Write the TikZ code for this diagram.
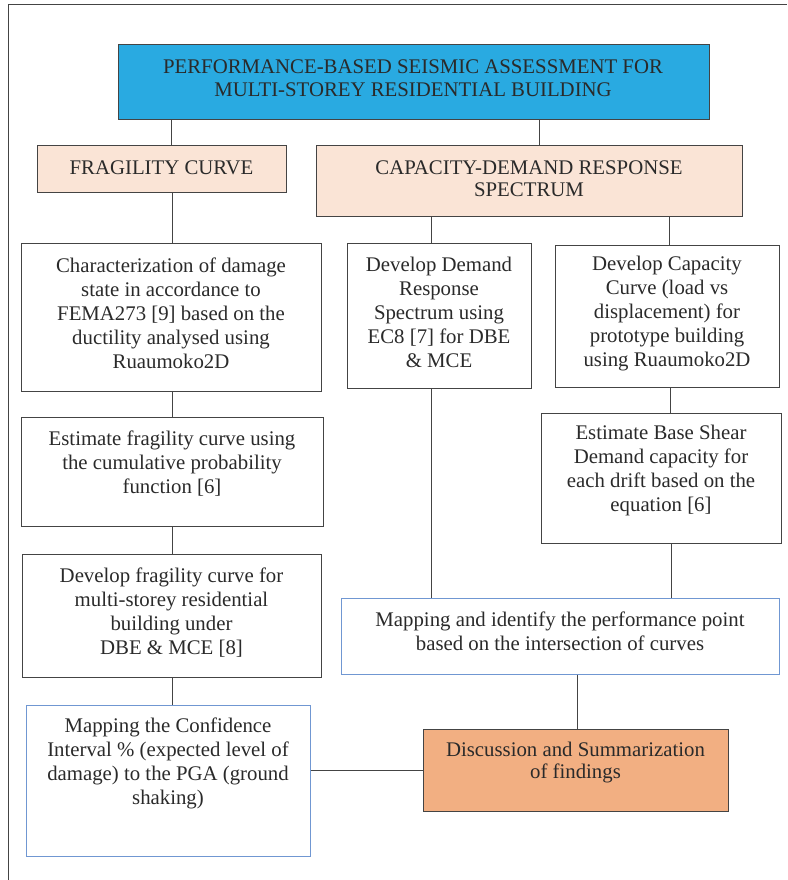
\documentclass[tikz,border=0pt]{standalone}
\usepackage{fontspec}
\setmainfont{Liberation Serif}
\definecolor{titleblue}{HTML}{29AAE1}
\definecolor{pinkfill}{HTML}{FAE4D6}
\definecolor{orangefill}{HTML}{F2AF82}
\definecolor{edgegray}{HTML}{444444}
\definecolor{edgeblue}{HTML}{7097D2}
\definecolor{txtgray}{HTML}{2A2A2A}
\tikzset{
  box/.style={draw=edgegray, line width=1pt, inner sep=0pt, rectangle},
  bluebox/.style={draw=edgeblue, line width=1pt, inner sep=0pt, rectangle, fill=white},
  txt/.style={inner sep=0pt, align=center, text=txtgray, font=\fontsize{20.8}{24}\selectfont},
  conn/.style={draw=edgegray, line width=1pt},
}
\begin{document}
\begin{tikzpicture}[x=1pt, y=-1pt]
\useasboundingbox (0,0) rectangle (787,880);
% outer frame
\coordinate (fr1) at (8,880);
\coordinate (fr2) at (8,5);
\coordinate (fr3) at (787,5);
\draw[edgegray, line width=1pt] (fr1) -- (fr2) -- (fr3);

% boxes
\node[box, fill=titleblue, minimum width=591pt, minimum height=75pt] (title) at (413.5,82.5) {};
\node[box, fill=pinkfill, minimum width=249pt, minimum height=47pt] (frag) at (161.5,168.5) {};
\node[box, fill=pinkfill, minimum width=426pt, minimum height=71pt] (cap) at (529,180.5) {};
\node[box, minimum width=300pt, minimum height=148pt] (char) at (171,317) {};
\node[box, minimum width=302pt, minimum height=109pt] (estf) at (172,471.5) {};
\node[box, minimum width=299pt, minimum height=123pt] (devf) at (171.5,615.5) {};
\node[bluebox, minimum width=284pt, minimum height=151pt] (conf) at (168,780.5) {};
\node[box, minimum width=184pt, minimum height=145pt] (dem) at (439,315.5) {};
\node[box, minimum width=224pt, minimum height=142pt] (capc) at (667,316) {};
\node[box, minimum width=240pt, minimum height=130pt] (base) at (661,478) {};
\node[bluebox, minimum width=438pt, minimum height=76pt] (map) at (560,636) {};
\node[box, fill=orangefill, minimum width=305pt, minimum height=82pt] (disc) at (575.5,770) {};

% texts
\node[txt, font=\fontsize{20.8}{23}\selectfont] (title-t) at (413,78.5) {PERFORMANCE-BASED SEISMIC ASSESSMENT FOR\\MULTI-STOREY RESIDENTIAL BUILDING};
\node[txt] (frag-t) at (161.5,168) {FRAGILITY CURVE};
\node[txt, font=\fontsize{20.8}{22}\selectfont] (cap-t) at (529,179) {CAPACITY-DEMAND RESPONSE\\SPECTRUM};
\node[txt] (char-t) at (171,313.5) {Characterization of damage\\state in accordance to\\FEMA273 [9] based on the\\ductility analysed using\\Ruaumoko2D};
\node[txt] (estf-t) at (172,464) {Estimate fragility curve using\\the cumulative probability\\function [6]};
\node[txt] (devf-t) at (171.5,612.5) {Develop fragility curve for\\multi-storey residential\\building under\\DBE \& MCE [8]};
\node[txt] (dem-t) at (439,312) {Develop Demand\\Response\\Spectrum using\\EC8 [7] for DBE\\\& MCE};
\node[txt] (capc-t) at (667,314) {Develop Capacity\\Curve (load vs\\displacement) for\\prototype building\\using Ruaumoko2D};
\node[txt] (base-t) at (661,470.5) {Estimate Base Shear\\Demand capacity for\\each drift based on the\\equation [6]};
\node[txt] (map-t) at (560,631) {Mapping and identify the performance point\\based on the intersection of curves};
\node[txt, font=\fontsize{20.8}{22}\selectfont] (disc-t) at (575.5,763) {Discussion and Summarization\\of findings};
\node[txt] (conf-t) at (168,763) {Mapping the Confidence\\Interval \% (expected level of\\damage) to the PGA (ground\\shaking)};

% connectors
\draw[conn] (title.south -| 171,0) -- (frag.north -| 171,0);
\draw[conn] (title.south -| 539,0) -- (cap.north -| 539,0);
\draw[conn] (frag.south -| 172,0) -- (char.north -| 172,0);
\draw[conn] (cap.south -| 431,0) -- (dem.north -| 431,0);
\draw[conn] (cap.south -| 669,0) -- (capc.north -| 669,0);
\draw[conn] (char.south -| 172,0) -- (estf.north -| 172,0);
\draw[conn] (estf.south -| 172,0) -- (devf.north -| 172,0);
\draw[conn] (devf.south -| 172,0) -- (conf.north -| 172,0);
\draw[conn] (capc.south -| 670,0) -- (base.north -| 670,0);
\draw[conn] (dem.south -| 431,0) -- (map.north -| 431,0);
\draw[conn] (base.south -| 671,0) -- (map.north -| 671,0);
\draw[conn] (map.south -| 577,0) -- (disc.north -| 577,0);
\draw[conn] (conf.east |- 0,770) -- (disc.west |- 0,770);
\end{tikzpicture}
\end{document}
